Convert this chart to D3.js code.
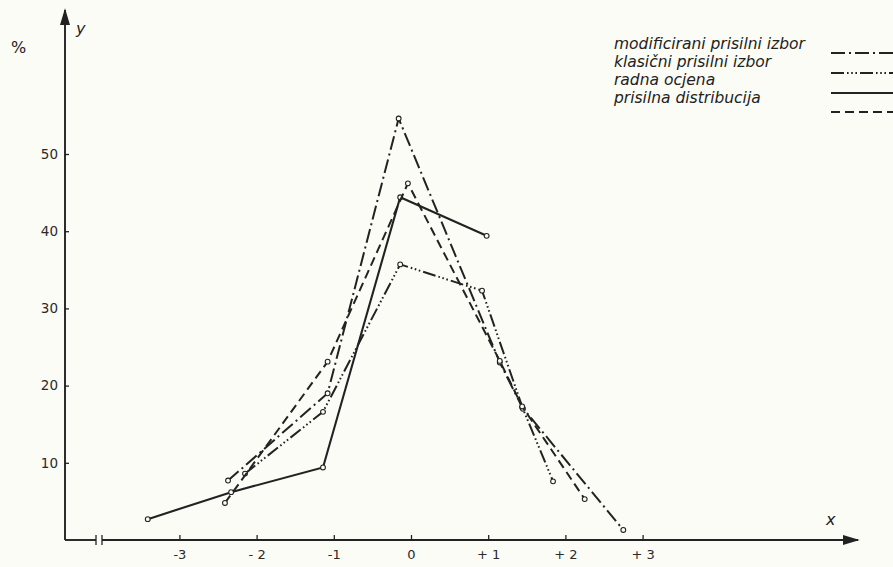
<!doctype html>
<html>
<head>
<meta charset="utf-8">
<script src="https://d3js.org/d3.v7.min.js"></script>
<style>
body { margin: 0; background: #fcfcf6; }
text { fill: #222; }
</style>
</head>
<body>
<script type="text/javascript">
var width = 893;
var height = 567;

// x categories and tick labels
var xTicks = [-3, -2, -1, 0, 1, 2, 3];
var xTickLabels = ["-3", "- 2", "-1", "0", "+ 1", "+ 2", "+ 3"];
var yTicks = [10, 20, 30, 40, 50];

// series: [x, y%]
var modificirani = [[-2.37, 7.7], [-1.08, 19.0], [-0.16, 54.6], [1.15, 23.0], [1.44, 17.2], [2.75, 1.3]];
var klasicni = [[-2.15, 8.6], [-1.14, 16.6], [-0.14, 35.7], [0.92, 32.3], [1.45, 17.0], [1.84, 7.6]];
var radna = [[-3.41, 2.7], [-2.33, 6.2], [-1.14, 9.4], [-0.14, 44.4], [0.98, 39.4]];
var prisilna = [[-2.41, 4.8], [-1.08, 23.1], [-0.04, 46.2], [1.15, 23.2], [1.44, 17.3], [2.25, 5.3]];

var seriesNames = ["modificirani prisilni izbor", "klasični prisilni izbor", "radna ocjena", "prisilna distribucija"];
var seriesData = [modificirani, klasicni, radna, prisilna];
var dashes = ["14,4,2,4", "13,3,1.6,2.6,1.6,2.6,1.6,3", null, "9,5"];

var x = d3.scaleLinear().domain([-3, 3]).range([179.4, 642.6]);
var y = d3.scaleLinear().domain([0, 50]).range([540, 154]);

var svg = d3.select("body").append("svg")
    .attr("width", width)
    .attr("height", height);

var ink = "#222";

// axes with arrows
svg.append("defs").append("marker")
    .attr("id", "arrow")
    .attr("viewBox", "0 0 10 10")
    .attr("refX", 9).attr("refY", 5)
    .attr("markerWidth", 9).attr("markerHeight", 9)
    .attr("orient", "auto")
    .append("path")
    .attr("d", "M0,2 L10,5 L0,8 Z")
    .attr("fill", ink);

svg.append("line")
    .attr("x1", 65).attr("y1", 540).attr("x2", 65).attr("y2", 10)
    .attr("stroke", ink).attr("stroke-width", 1.9)
    .attr("marker-end", "url(#arrow)");

svg.append("line")
    .attr("x1", 65).attr("y1", 540).attr("x2", 96).attr("y2", 540)
    .attr("stroke", ink).attr("stroke-width", 1.9);
svg.append("line")
    .attr("x1", 102).attr("y1", 540).attr("x2", 858).attr("y2", 540)
    .attr("stroke", ink).attr("stroke-width", 1.9)
    .attr("marker-end", "url(#arrow)");
// axis break marks
[96, 102].forEach(function (bx) {
    svg.append("line")
        .attr("x1", bx).attr("y1", 535).attr("x2", bx).attr("y2", 545)
        .attr("stroke", ink).attr("stroke-width", 1.3);
});

var yAxis = d3.axisLeft(y).tickValues(yTicks).tickSizeInner(-4).tickSizeOuter(0).tickPadding(7);
var gy = svg.append("g").attr("transform", "translate(65,0)").call(yAxis);
gy.select(".domain").remove();
gy.selectAll("line").attr("stroke", ink).attr("stroke-width", 1.3);
gy.selectAll("text").attr("font-family", "DejaVu Sans").attr("font-size", 13.5).style("fill", "#2a2a2a");

var xAxis = d3.axisBottom(x).tickValues(xTicks).tickSizeInner(-5).tickSizeOuter(0).tickPadding(10)
    .tickFormat(function (d, i) { return xTickLabels[i]; });
var gx = svg.append("g").attr("transform", "translate(0,540)").call(xAxis);
gx.select(".domain").remove();
gx.selectAll("line").attr("stroke", ink).attr("stroke-width", 1.3);
gx.selectAll("text").attr("font-family", "DejaVu Sans").attr("font-size", 13).style("fill", "#2a2a2a");

svg.append("text").attr("x", 11).attr("y", 53)
    .attr("font-family", "DejaVu Sans").attr("font-size", 16).text("%");
svg.append("text").attr("x", 76).attr("y", 34)
    .attr("font-family", "DejaVu Sans").attr("font-style", "italic").attr("font-size", 16).text("y");
svg.append("text").attr("x", 826).attr("y", 525)
    .attr("font-family", "DejaVu Sans").attr("font-style", "italic").attr("font-size", 16).text("x");

// series lines
var line = d3.line()
    .x(function (d) { return x(d[0]); })
    .y(function (d) { return y(d[1]); });

seriesData.forEach(function (data, i) {
    svg.append("path")
        .datum(data)
        .attr("d", line)
        .attr("fill", "none")
        .attr("stroke", ink)
        .attr("stroke-width", i == 2 ? 2.1 : 2)
        .attr("stroke-dasharray", dashes[i]);

    svg.selectAll(".pt" + i)
        .data(data)
        .enter()
        .append("circle")
        .attr("class", "pt" + i)
        .attr("cx", function (d) { return x(d[0]); })
        .attr("cy", function (d) { return y(d[1]); })
        .attr("r", 2.4)
        .attr("fill", "#fcfcf6")
        .attr("stroke", ink)
        .attr("stroke-width", 1.1);
});

// legend
var legendY = [44, 62, 80, 98];
var sampleY = [53, 73, 93, 112];
seriesNames.forEach(function (name, i) {
    svg.append("text")
        .attr("x", 614).attr("y", legendY[i] + 5)
        .attr("font-family", "DejaVu Sans")
        .attr("font-style", "italic")
        .attr("font-size", 15.5)
        .text(name);
    svg.append("line")
        .attr("x1", 831).attr("x2", 895)
        .attr("y1", sampleY[i]).attr("y2", sampleY[i])
        .attr("stroke", ink)
        .attr("stroke-width", 2)
        .attr("stroke-dasharray", dashes[i]);
});
</script>
</body>
</html>
